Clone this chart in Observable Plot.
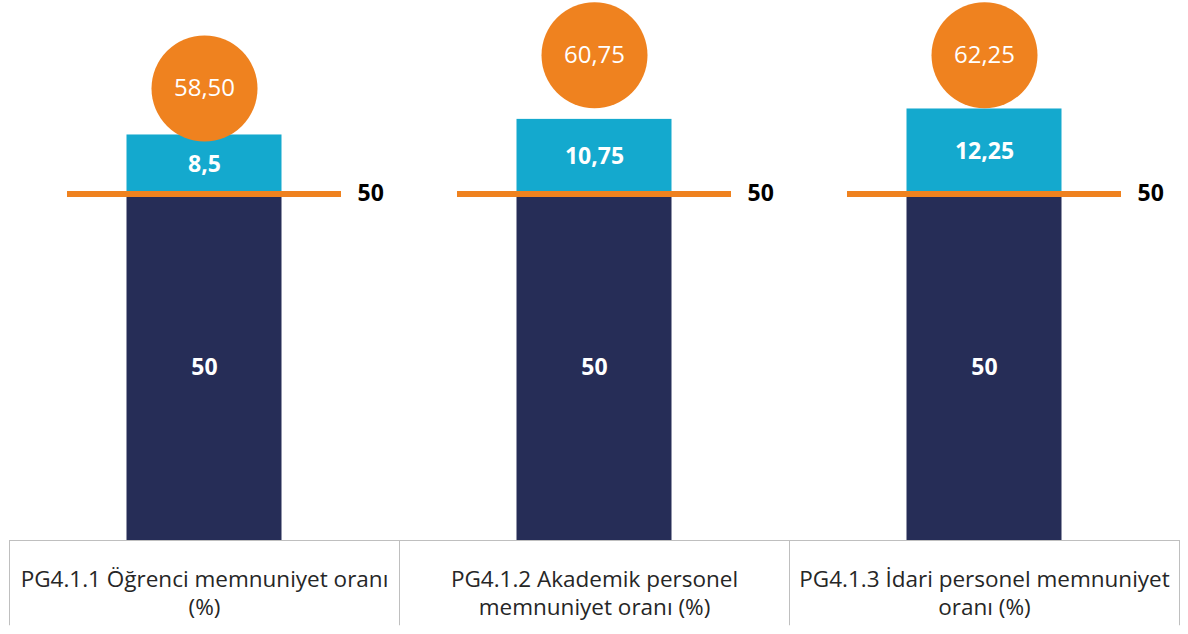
<!DOCTYPE html>
<html>
<head>
<meta charset="utf-8">
<script src="https://cdn.jsdelivr.net/npm/d3@7"></script>
<script src="https://cdn.jsdelivr.net/npm/@observablehq/plot@0.6"></script>
<style>
  html, body { margin: 0; padding: 0; background: #fff; }
  #chart svg { display: block; }
</style>
</head>
<body>
<div id="chart"></div>
<script>
// ---- data ----
const categories = [
  "PG4.1.1 Öğrenci memnuniyet oranı (%)",
  "PG4.1.2 Akademik personel memnuniyet oranı (%)",
  "PG4.1.3 İdari personel memnuniyet oranı (%)"
];
const tickLabels = [
  "PG4.1.1 Öğrenci memnuniyet oranı\n(%)",
  "PG4.1.2 Akademik personel\nmemnuniyet oranı (%)",
  "PG4.1.3 İdari personel memnuniyet\noranı (%)"
];
const baseValues = [50, 50, 50];
const extraValues = [8.5, 10.75, 12.25];
const target = 50;
const bubbleY = [65.2, 70, 70]; // height of the orange bubbles (value units)

// ---- derived tables ----
const fmt = (v, d) => (d == null ? String(v) : v.toFixed(d)).replace(".", ",");
const rows = [];
categories.forEach((c, i) => {
  rows.push({cat: c, series: "base", value: baseValues[i], label: fmt(baseValues[i])});
  rows.push({cat: c, series: "extra", value: extraValues[i], label: fmt(extraValues[i])});
});
const totals = categories.map((c, i) => ({
  cat: c, y: bubbleY[i], label: fmt(baseValues[i] + extraValues[i], 2)
}));

const navy = "#262D57", cyan = "#14A9CE", orange = "#EF821F", grid = "#BFBFBF";
const pxPerUnit = 6.932;
const yMax = 540 / pxPerUnit;

const chart = Plot.plot({
  width: 1188,
  height: 634,
  marginTop: 0,
  marginRight: 9,
  marginBottom: 94,
  marginLeft: 9,
  style: {fontFamily: "'Open Sans', sans-serif", background: "#fff"},
  x: {domain: categories, padding: 0, axis: null},
  y: {domain: [0, yMax], axis: null},
  color: {domain: ["base", "extra"], range: [navy, cyan]},
  marks: [
    Plot.barY(rows, {x: "cat", y: "value", fill: "series", insetLeft: 117.5, insetRight: 117.5}),
    Plot.text(rows, Plot.stackY({x: "cat", y: "value", text: "label", fill: "#fff",
      fontSize: 23, fontWeight: "bold", lineAnchor: "middle"})),
    Plot.tickY(categories, {x: d => d, y: () => target, stroke: orange, strokeWidth: 6,
      insetLeft: 58, insetRight: 58}),
    Plot.text(categories, {x: d => d, y: () => target, text: () => String(target), dx: 153,
      textAnchor: "start", fontSize: 23, fontWeight: "bold", fill: "#000", lineAnchor: "middle"}),
    Plot.dot(totals, {x: "cat", y: "y", r: 53, fill: orange, stroke: null}),
    Plot.text(totals, {x: "cat", y: "y", text: "label", fill: "#fff", fontSize: 24,
      lineAnchor: "middle"}),
    Plot.ruleY([0], {stroke: grid, strokeWidth: 1}),
    Plot.ruleX(categories, {x: d => d, dx: -195, y1: 0, y2: -12.3, stroke: grid, strokeWidth: 1}),
    Plot.ruleX([categories[categories.length - 1]], {x: d => d, dx: 195, y1: 0, y2: -12.3, stroke: grid, strokeWidth: 1}),
    Plot.text(categories, {x: d => d, frameAnchor: "bottom", lineAnchor: "top", dy: 27,
      text: (d, i) => tickLabels[i], fontSize: 22.5, lineHeight: 1.24, fill: "#262626"})
  ]
});
document.getElementById("chart").appendChild(chart);
</script>
</body>
</html>
